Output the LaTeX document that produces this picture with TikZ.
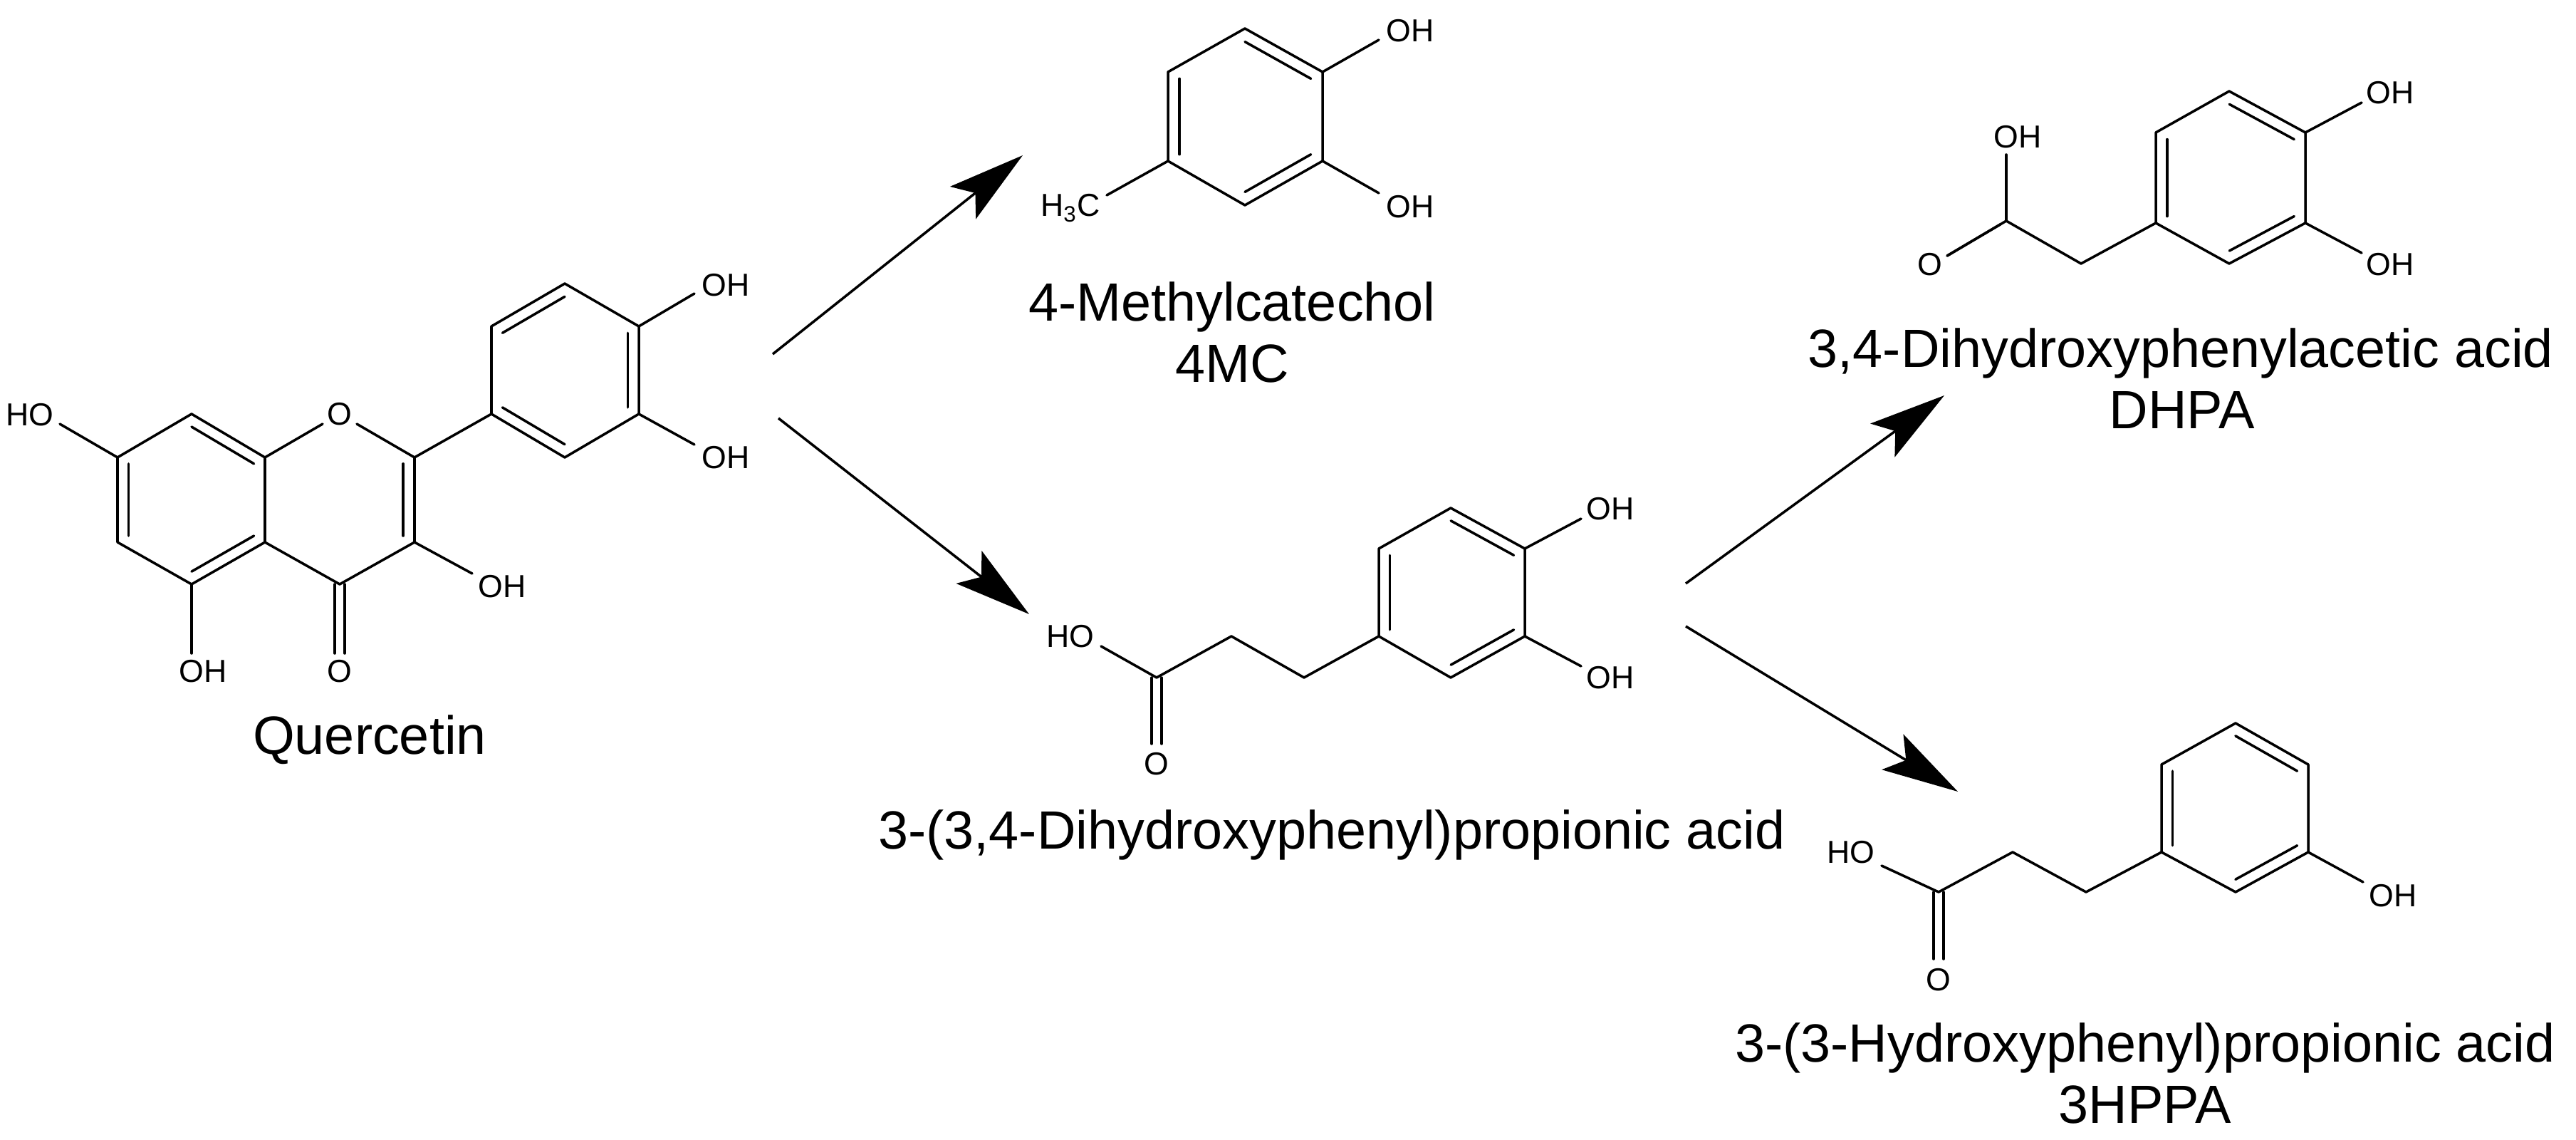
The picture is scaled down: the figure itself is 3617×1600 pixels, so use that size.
\documentclass[tikz,border=0pt]{standalone}
\usepackage{fontspec}
\setmainfont{Liberation Sans}
\usetikzlibrary{calc,arrows.meta}
\tikzset{
  bond/.style={line width=1pt,line cap=round,line join=round},
  atom/.style={inner sep=0pt,font=\fontsize{12.7}{15}\selectfont},
  capt/.style={inner sep=0pt,anchor=base,font=\fontsize{21.5}{26}\selectfont},
  rxn/.style={line width=1pt,-{Stealth[length=1.07cm,width=0.58cm,inset=0.22cm]}}
}
\newcommand{\innerbond}[3]{\draw[bond] ($(#1)!0.15!(#3)$) -- ($(#2)!0.15!(#3)$);}
\begin{document}
\begin{tikzpicture}[x=0.01cm,y=-0.01cm]
\useasboundingbox (0,0) rectangle (3617,1600);
% ---------- Quercetin ----------
\coordinate (c7) at (165,642); \coordinate (c8) at (269,581); \coordinate (c8a) at (372,642);
\coordinate (c4a) at (372,761); \coordinate (c5) at (269,820); \coordinate (c6) at (165,761);
\coordinate (cA) at (269,701);
\coordinate (c2) at (582,642); \coordinate (c3) at (582,761); \coordinate (c4) at (477,820);
\coordinate (cC) at (477,701);
\coordinate (o1a) at (453,595); \coordinate (o1b) at (501,595);
\coordinate (b1) at (690,581); \coordinate (b2) at (690,458); \coordinate (b3) at (793,398);
\coordinate (b4) at (897,458); \coordinate (b5) at (897,581); \coordinate (b6) at (793,642);
\coordinate (cB) at (793,520);
\draw[bond] (c7)--(c8)--(c8a)--(c4a)--(c5)--(c6)--cycle;
\innerbond{c8}{c8a}{cA} \innerbond{c7}{c6}{cA} \innerbond{c4a}{c5}{cA}
\draw[bond] (c8a)--(o1a) (o1b)--(c2)--(c3)--(c4)--(c4a);
\innerbond{c2}{c3}{cC}
\node[atom] (o1) at (477,581) {O};
\draw[bond] (470,820)--(470,917) (484,820)--(484,917);
\node[atom] (o4) at (477,942) {O};
\coordinate (q5e) at (269,917); \draw[bond] (c5)--(q5e);
\node[atom] (oh5) at (285,942) {OH};
\coordinate (q3e) at (663,805); \draw[bond] (c3)--(q3e);
\node[atom] (oh3) at (705,823) {OH};
\coordinate (q7e) at (84,595); \draw[bond] (c7)--(q7e);
\node[atom] (oh7) at (42,582) {HO};
\draw[bond] (c2)--(b1);
\draw[bond] (b1)--(b2)--(b3)--(b4)--(b5)--(b6)--cycle;
\innerbond{b2}{b3}{cB} \innerbond{b4}{b5}{cB} \innerbond{b6}{b1}{cB}
\coordinate (q4e) at (975,412); \draw[bond] (b4)--(q4e);
\node[atom] (oh4p) at (1019,400) {OH};
\coordinate (q3pe) at (975,624); \draw[bond] (b5)--(q3pe);
\node[atom] (oh3p) at (1019,642) {OH};
\node[capt] (quer) at (519,1058) {Quercetin};
% ---------- 4MC ----------
\coordinate (m1) at (1748,40); \coordinate (m2) at (1857,101); \coordinate (m3) at (1857,226);
\coordinate (m4) at (1748,288); \coordinate (m5) at (1640,226); \coordinate (m6) at (1640,101);
\coordinate (cM) at (1748,164);
\draw[bond] (m1)--(m2)--(m3)--(m4)--(m5)--(m6)--cycle;
\innerbond{m1}{m2}{cM} \innerbond{m6}{m5}{cM} \innerbond{m3}{m4}{cM}
\coordinate (me1) at (1936,56); \draw[bond] (m2)--(me1);
\node[atom] (moh1) at (1980,43) {OH};
\coordinate (me2) at (1936,271); \draw[bond] (m3)--(me2);
\node[atom] (moh2) at (1980,290) {OH};
\coordinate (me3) at (1554,274); \draw[bond] (m5)--(me3);
\node[atom] (mch3) at (1503,292) {H\textsubscript{3}C};
\node[capt] (mcname) at (1730,450) {4-Methylcatechol};
\node[capt] (mcabbr) at (1730,536) {4MC};
% ---------- DHPPA ----------
\coordinate (p1) at (1936,893); \coordinate (p2) at (1936,770); \coordinate (p3) at (2037,713);
\coordinate (p4) at (2141,770); \coordinate (p5) at (2141,893); \coordinate (p6) at (2037,951);
\coordinate (cP) at (2038,832);
\draw[bond] (p1)--(p2)--(p3)--(p4)--(p5)--(p6)--cycle;
\innerbond{p3}{p4}{cP} \innerbond{p2}{p1}{cP} \innerbond{p5}{p6}{cP}
\coordinate (pe1) at (2220,728); \draw[bond] (p4)--(pe1);
\node[atom] (poh1) at (2261,714) {OH};
\coordinate (pe2) at (2220,935); \draw[bond] (p5)--(pe2);
\node[atom] (poh2) at (2261,951) {OH};
\coordinate (pa) at (1831,951); \coordinate (pb) at (1729,893); \coordinate (pc) at (1624,951);
\draw[bond] (p1)--(pa)--(pb)--(pc);
\draw[bond] (1617,951)--(1617,1044) (1631,951)--(1631,1044);
\node[atom] (po) at (1624,1072) {O};
\coordinate (pe3) at (1546,907); \draw[bond] (pc)--(pe3);
\node[atom] (pho) at (1503,893) {HO};
\node[capt] (pname) at (1870,1191) {3-(3,4-Dihydroxyphenyl)propionic acid};
% ---------- DHPA ----------
\coordinate (d1) at (3027,313); \coordinate (d2) at (3027,186); \coordinate (d3) at (3130,128);
\coordinate (d4) at (3237,186); \coordinate (d5) at (3237,313); \coordinate (d6) at (3130,370);
\coordinate (cD) at (3132,250);
\draw[bond] (d1)--(d2)--(d3)--(d4)--(d5)--(d6)--cycle;
\innerbond{d3}{d4}{cD} \innerbond{d2}{d1}{cD} \innerbond{d5}{d6}{cD}
\coordinate (de1) at (3316,144); \draw[bond] (d4)--(de1);
\node[atom] (doh1) at (3356,130) {OH};
\coordinate (de2) at (3316,355); \draw[bond] (d5)--(de2);
\node[atom] (doh2) at (3356,371) {OH};
\coordinate (da) at (2922,370); \coordinate (dc) at (2817,310);
\draw[bond] (d1)--(da)--(dc);
\coordinate (de3) at (2817,217); \draw[bond] (dc)--(de3);
\node[atom] (doh3) at (2833,192) {OH};
\coordinate (de4) at (2734,359);
\draw[bond] (dc)--(de4);
\draw[bond,shift={(4,12)}] ($(dc)!0.1!(de4)$)--(de4);
\node[atom] (do) at (2710,371) {O};
\node[capt] (dname) at (3062,515) {3,4-Dihydroxyphenylacetic acid};
\node[capt] (dabbr) at (3064,601) {DHPA};
% ---------- 3HPPA ----------
\coordinate (h1) at (3035,1196); \coordinate (h2) at (3035,1073); \coordinate (h3) at (3139,1015);
\coordinate (h4) at (3241,1073); \coordinate (h5) at (3241,1196); \coordinate (h6) at (3139,1252);
\coordinate (cH) at (3138,1134);
\draw[bond] (h1)--(h2)--(h3)--(h4)--(h5)--(h6)--cycle;
\innerbond{h3}{h4}{cH} \innerbond{h2}{h1}{cH} \innerbond{h5}{h6}{cH}
\coordinate (he1) at (3318,1238); \draw[bond] (h5)--(he1);
\node[atom] (hoh1) at (3360,1257) {OH};
\coordinate (ha) at (2929,1252); \coordinate (hb) at (2826,1196); \coordinate (hc) at (2722,1252);
\draw[bond] (h1)--(ha)--(hb)--(hc);
\draw[bond] (2715,1252)--(2715,1346) (2729,1252)--(2729,1346);
\node[atom] (ho) at (2722,1375) {O};
\coordinate (he2) at (2642,1215); \draw[bond] (hc)--(he2);
\node[atom] (hho) at (2599,1196) {HO};
\node[capt] (hname) at (3012,1490) {3-(3-Hydroxyphenyl)propionic acid};
\node[capt] (habbr) at (3012,1576) {3HPPA};
% ---------- reaction arrows ----------
\coordinate (a1s) at (1085,497); \coordinate (a1e) at (1436,218);
\coordinate (a2s) at (1093,587); \coordinate (a2e) at (1445,862);
\coordinate (a3s) at (2367,819); \coordinate (a3e) at (2730,555);
\coordinate (a4s) at (2367,879); \coordinate (a4e) at (2749,1111);
\draw[rxn] (a1s)--(a1e);
\draw[rxn] (a2s)--(a2e);
\draw[rxn] (a3s)--(a3e);
\draw[rxn] (a4s)--(a4e);
\end{tikzpicture}
\end{document}
